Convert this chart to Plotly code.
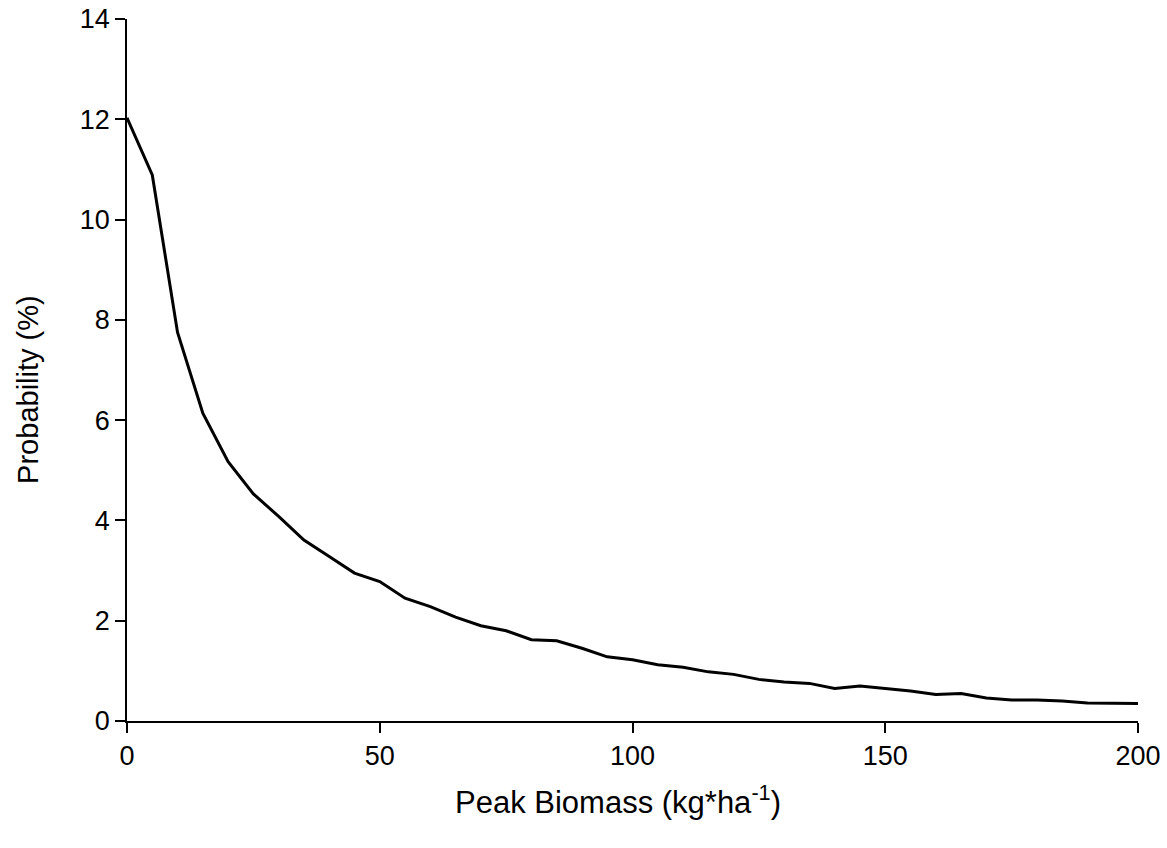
import plotly.graph_objects as go

biomass = [0, 5, 10, 15, 20, 25, 30, 35, 40, 45, 50, 55, 60, 65, 70, 75, 80, 85, 90, 95,
           100, 105, 110, 115, 120, 125, 130, 135, 140, 145, 150, 155, 160, 165, 170, 175,
           180, 185, 190, 195, 200]
probability = [12.03, 10.89, 7.75, 6.14, 5.17, 4.53, 4.08, 3.61, 3.28, 2.95, 2.78, 2.45,
               2.28, 2.07, 1.90, 1.80, 1.62, 1.60, 1.45, 1.28, 1.22, 1.12, 1.07, 0.98,
               0.93, 0.83, 0.78, 0.75, 0.65, 0.70, 0.65, 0.60, 0.53, 0.55, 0.46, 0.42,
               0.42, 0.40, 0.36, 0.35, 0.35]

x_ticks = [0, 50, 100, 150, 200]
y_ticks = [0, 2, 4, 6, 8, 10, 12, 14]
x_title = "Peak Biomass (kg*ha<sup>-1</sup>)"
y_title = "Probability (%)"

fig = go.Figure()
fig.add_trace(go.Scatter(x=biomass, y=probability, mode="lines",
                         line=dict(color="black", width=3), showlegend=False))

font_family = "Liberation Sans, Arial, sans-serif"
fig.update_layout(
    width=1167, height=848,
    margin=dict(l=127, r=29, t=19, b=127, autoexpand=False),
    plot_bgcolor="white", paper_bgcolor="white",
    font=dict(family=font_family, color="black", size=27),
)
fig.update_xaxes(
    range=[0, 200], tickvals=x_ticks, showgrid=False, zeroline=False,
    showline=True, linecolor="black", linewidth=1.5, automargin=False,
    ticks="outside", ticklen=10, tickwidth=1.5, tickcolor="black",
    tickfont=dict(size=27), ticklabeloverflow="allow",
)
fig.update_yaxes(
    range=[0, 14], tickvals=y_ticks, showgrid=False, zeroline=False,
    showline=True, linecolor="black", linewidth=1.5, automargin=False,
    ticks="outside", ticklen=10, tickwidth=1.5, tickcolor="black",
    tickfont=dict(size=27), ticklabeloverflow="allow",
)
fig.add_annotation(text=x_title, xref="paper", yref="paper", x=0.4857, y=-0.1125,
                   xanchor="center", yanchor="middle", showarrow=False,
                   font=dict(size=31))
fig.add_annotation(text=y_title, xref="paper", yref="paper", x=-0.098, y=0.473,
                   xanchor="center", yanchor="middle", showarrow=False, textangle=-90,
                   font=dict(size=29))

fig.write_html("out.html", config={"displayModeBar": False},
               post_script="document.body.style.margin='0';document.body.style.overflow='hidden';")
